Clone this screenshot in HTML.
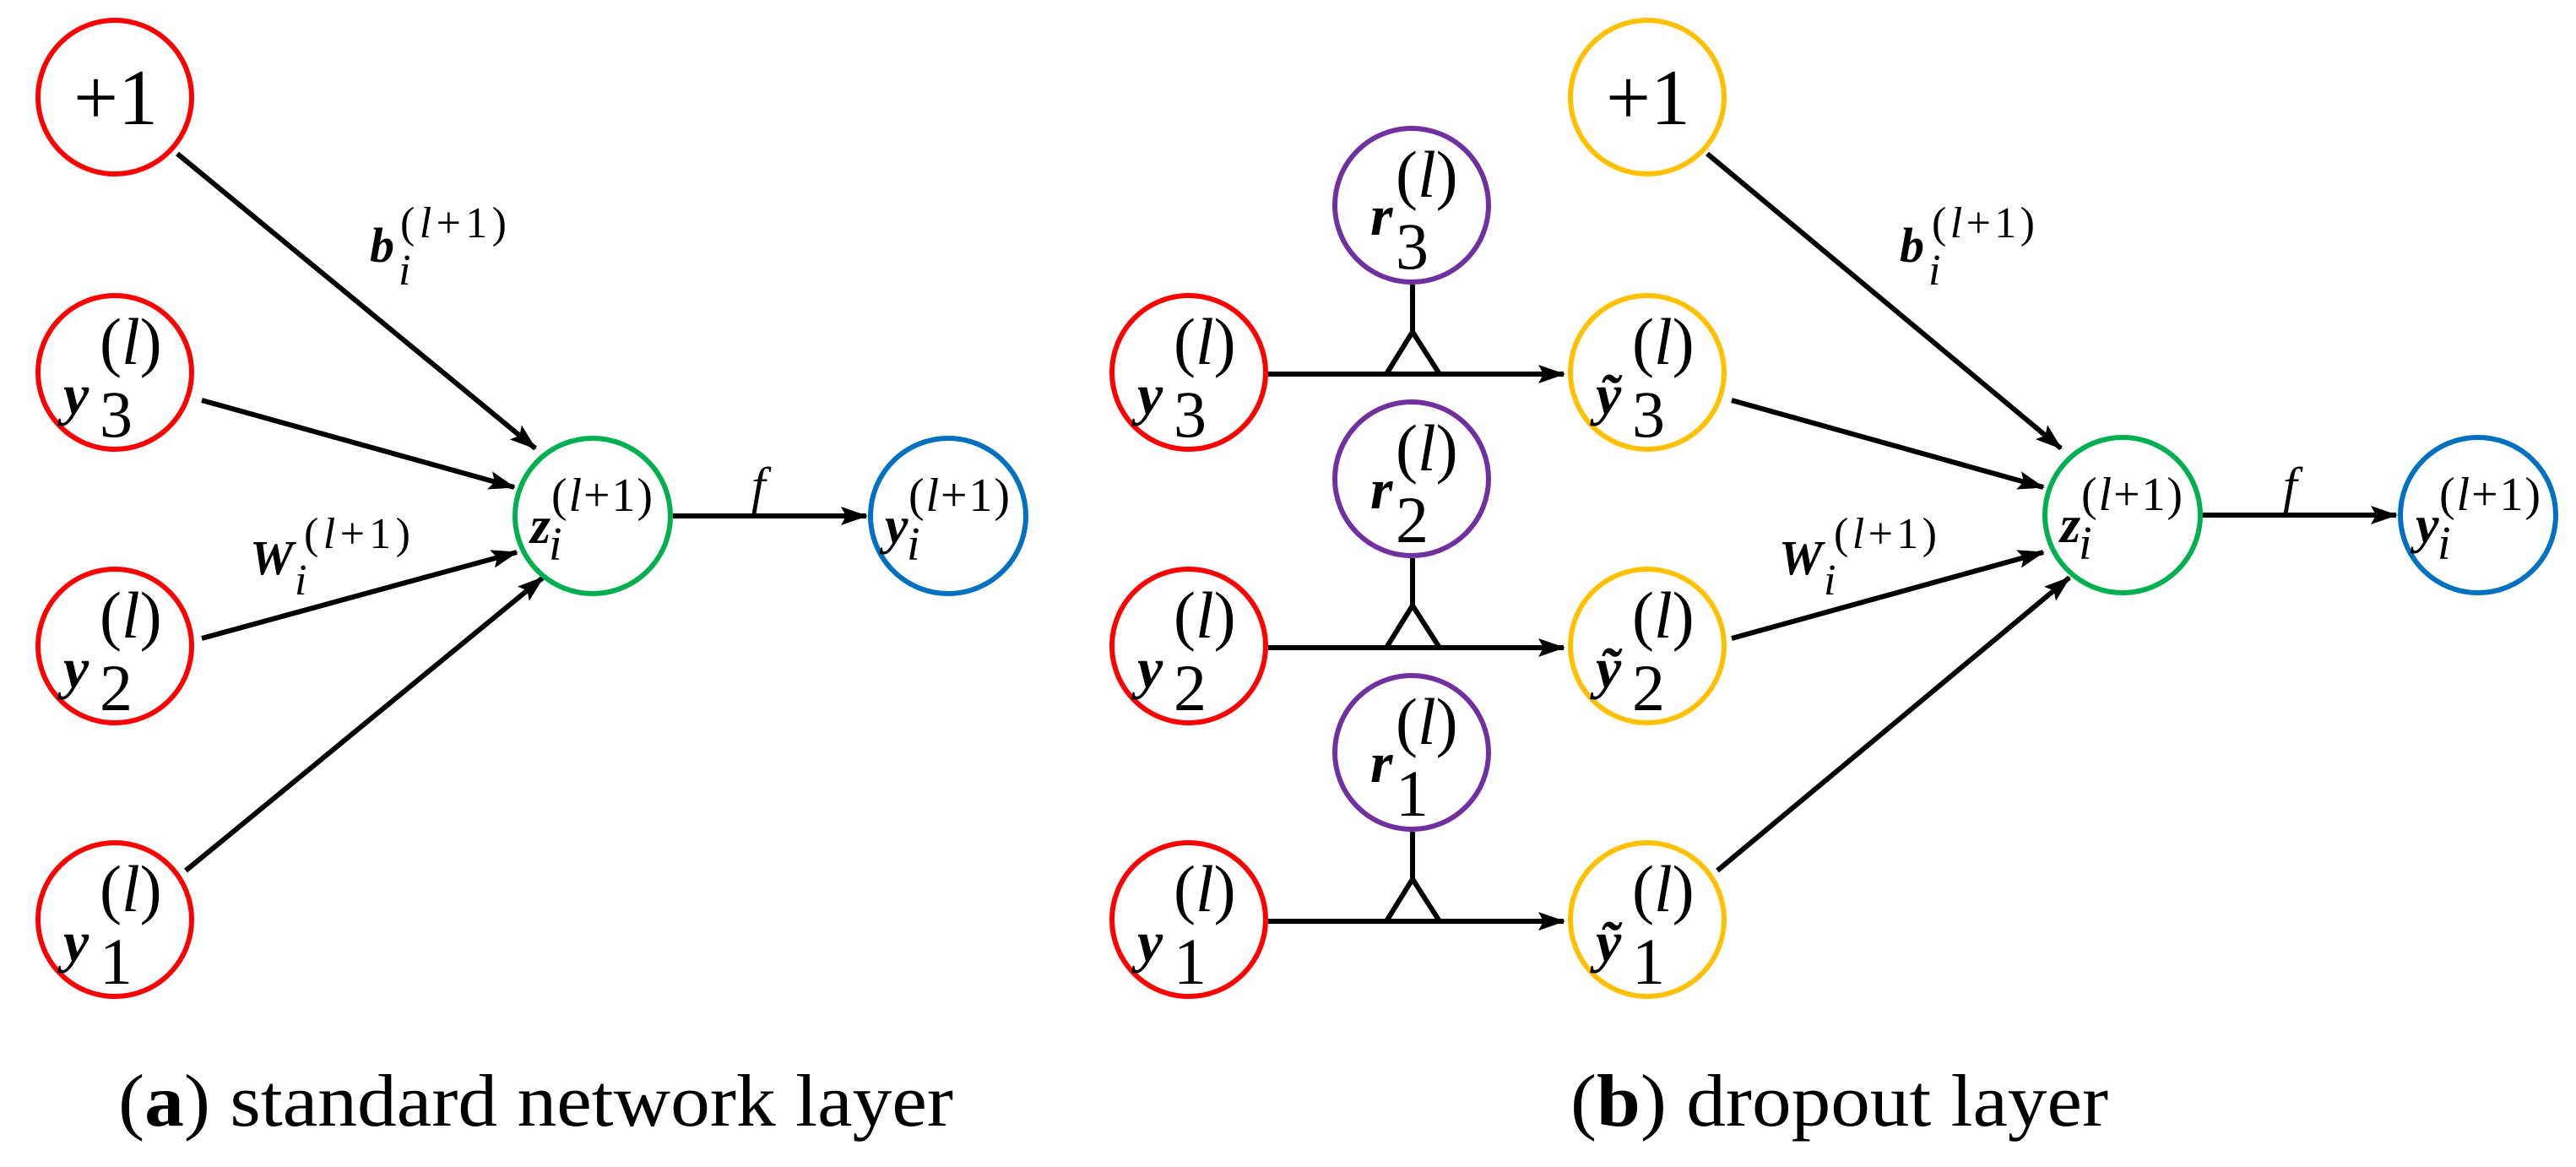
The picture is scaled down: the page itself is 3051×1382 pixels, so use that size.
<!DOCTYPE html>
<html><head><meta charset="utf-8"><style>
html,body{margin:0;padding:0;background:#fff;}
svg{display:block;}
svg text{font-family:"Liberation Serif","Times New Roman",Times,serif;fill:#000;}
.v{font-weight:bold;font-style:italic;}
.it{font-style:italic;}
</style></head><body>
<svg width="3051" height="1382" viewBox="0 0 3051 1382" xmlns="http://www.w3.org/2000/svg" font-family="Liberation Serif, Times New Roman, serif">
<defs>
<marker id="ah" markerUnits="userSpaceOnUse" markerWidth="32" markerHeight="22" refX="30" refY="11" orient="auto">
<path d="M0,0 L32,11 L0,22 L6,11 z" fill="#000"/>
</marker>
</defs>
<g stroke="#000" stroke-width="6" fill="none" marker-end="url(#ah)">
<line x1="210" y1="182" x2="634" y2="531"/>
<line x1="239" y1="474" x2="609" y2="577"/>
<line x1="239" y1="756" x2="612" y2="654"/>
<line x1="220" y1="1031" x2="643" y2="684"/>
<line x1="797" y1="611" x2="1026" y2="611"/>
<line x1="1502" y1="443" x2="1852" y2="443"/>
<line x1="1502" y1="767" x2="1852" y2="767"/>
<line x1="1502" y1="1091" x2="1852" y2="1091"/>
<line x1="2022" y1="182" x2="2441" y2="531"/>
<line x1="2051" y1="474" x2="2420" y2="577"/>
<line x1="2051" y1="756" x2="2420" y2="654"/>
<line x1="2034" y1="1031" x2="2451" y2="684"/>
<line x1="2608" y1="610" x2="2838" y2="610"/>
</g>
<g stroke="#000" stroke-width="6" fill="none" stroke-linejoin="miter">
<line x1="1673" y1="337" x2="1673" y2="393"/>
<path d="M1642,443 L1673,393 L1705,443"/>
<line x1="1673" y1="661" x2="1673" y2="717"/>
<path d="M1642,767 L1673,717 L1705,767"/>
<line x1="1673" y1="985" x2="1673" y2="1041"/>
<path d="M1642,1091 L1673,1041 L1705,1091"/>
</g>
<g fill="none" stroke-width="6">
<circle cx="136" cy="115" r="91" stroke="#FF0000"/>
<circle cx="136" cy="441" r="91" stroke="#FF0000"/>
<circle cx="136" cy="765" r="91" stroke="#FF0000"/>
<circle cx="136" cy="1089" r="91" stroke="#FF0000"/>
<circle cx="702" cy="611" r="92" stroke="#00B050"/>
<circle cx="1123" cy="611" r="92" stroke="#0070C0"/>
<circle cx="1408" cy="441" r="91" stroke="#FF0000"/>
<circle cx="1408" cy="765" r="91" stroke="#FF0000"/>
<circle cx="1408" cy="1089" r="91" stroke="#FF0000"/>
<circle cx="1672" cy="243" r="91" stroke="#7030A0"/>
<circle cx="1672" cy="567" r="91" stroke="#7030A0"/>
<circle cx="1672" cy="891" r="91" stroke="#7030A0"/>
<circle cx="1951" cy="115" r="91" stroke="#FFC000"/>
<circle cx="1951" cy="441" r="91" stroke="#FFC000"/>
<circle cx="1951" cy="765" r="91" stroke="#FFC000"/>
<circle cx="1951" cy="1089" r="91" stroke="#FFC000"/>
<circle cx="2514" cy="610" r="92" stroke="#00B050"/>
<circle cx="2935" cy="610" r="92" stroke="#0070C0"/>
</g>
<text x="87" y="147" font-size="94">+1</text>
<text x="1902" y="147" font-size="94">+1</text>
<g>
<text class="v" x="75" y="490" font-size="68">y</text><text x="118" y="517" font-size="78">3</text><text x="118" y="431" font-size="78">(<tspan class="it">l</tspan>)</text>
<text class="v" x="75" y="814" font-size="68">y</text><text x="118" y="841" font-size="78">2</text><text x="118" y="755" font-size="78">(<tspan class="it">l</tspan>)</text>
<text class="v" x="75" y="1138" font-size="68">y</text><text x="118" y="1165" font-size="78">1</text><text x="118" y="1079" font-size="78">(<tspan class="it">l</tspan>)</text>
</g>
<g>
<text class="v" x="1347" y="490" font-size="68">y</text><text x="1390" y="517" font-size="78">3</text><text x="1390" y="431" font-size="78">(<tspan class="it">l</tspan>)</text>
<text class="v" x="1347" y="814" font-size="68">y</text><text x="1390" y="841" font-size="78">2</text><text x="1390" y="755" font-size="78">(<tspan class="it">l</tspan>)</text>
<text class="v" x="1347" y="1138" font-size="68">y</text><text x="1390" y="1165" font-size="78">1</text><text x="1390" y="1079" font-size="78">(<tspan class="it">l</tspan>)</text>
</g>
<g>
<text class="v" x="1890" y="490" font-size="68">ỹ</text><text x="1933" y="517" font-size="78">3</text><text x="1933" y="431" font-size="78">(<tspan class="it">l</tspan>)</text>
<text class="v" x="1890" y="814" font-size="68">ỹ</text><text x="1933" y="841" font-size="78">2</text><text x="1933" y="755" font-size="78">(<tspan class="it">l</tspan>)</text>
<text class="v" x="1890" y="1138" font-size="68">ỹ</text><text x="1933" y="1165" font-size="78">1</text><text x="1933" y="1079" font-size="78">(<tspan class="it">l</tspan>)</text>
</g>
<g>
<text class="v" x="1623" y="278" font-size="68">r</text><text x="1653" y="318" font-size="78">3</text><text x="1653" y="233" font-size="78">(<tspan class="it">l</tspan>)</text>
<text class="v" x="1623" y="602" font-size="68">r</text><text x="1653" y="642" font-size="78">2</text><text x="1653" y="557" font-size="78">(<tspan class="it">l</tspan>)</text>
<text class="v" x="1623" y="926" font-size="68">r</text><text x="1653" y="966" font-size="78">1</text><text x="1653" y="881" font-size="78">(<tspan class="it">l</tspan>)</text>
</g>
<g>
<text class="v" x="628" y="643" font-size="62">z</text><text class="it" x="650" y="663" font-size="56">i</text><text x="653" y="605" font-size="56" textLength="120">(<tspan class="it">l</tspan>+1)</text>
<text class="v" x="1048" y="643" font-size="62">y</text><text class="it" x="1074" y="663" font-size="56">i</text><text x="1076" y="605" font-size="56" textLength="120">(<tspan class="it">l</tspan>+1)</text>
<text class="v" x="2440" y="642" font-size="62">z</text><text class="it" x="2462" y="662" font-size="56">i</text><text x="2465" y="604" font-size="56" textLength="120">(<tspan class="it">l</tspan>+1)</text>
<text class="v" x="2861" y="642" font-size="62">y</text><text class="it" x="2887" y="662" font-size="56">i</text><text x="2889" y="604" font-size="56" textLength="120">(<tspan class="it">l</tspan>+1)</text>
</g>
<g>
<text class="v" x="438" y="310" font-size="58">b</text><text class="it" x="472" y="337" font-size="52">i</text><text x="474" y="281" font-size="52" textLength="126">(<tspan class="it">l</tspan>+1)</text>
<text class="v" x="296" y="680" font-size="58">W</text><text class="it" x="349" y="704" font-size="52">i</text><text x="360" y="649" font-size="52" textLength="126">(<tspan class="it">l</tspan>+1)</text>
<text class="it" x="890" y="595" font-size="60">f</text>
<text class="v" x="2250" y="310" font-size="58">b</text><text class="it" x="2284" y="337" font-size="52">i</text><text x="2288" y="281" font-size="52" textLength="122">(<tspan class="it">l</tspan>+1)</text>
<text class="v" x="2107" y="680" font-size="58">W</text><text class="it" x="2160" y="704" font-size="52">i</text><text x="2172" y="649" font-size="52" textLength="122">(<tspan class="it">l</tspan>+1)</text>
<text class="it" x="2704" y="595" font-size="60">f</text>
</g>
<text x="140" y="1333" font-size="88" textLength="989" lengthAdjust="spacingAndGlyphs">(<tspan font-weight="bold">a</tspan>) standard network layer</text>
<text x="1860" y="1333" font-size="88" textLength="637" lengthAdjust="spacingAndGlyphs">(<tspan font-weight="bold">b</tspan>) dropout layer</text>
</svg>
</body></html>
